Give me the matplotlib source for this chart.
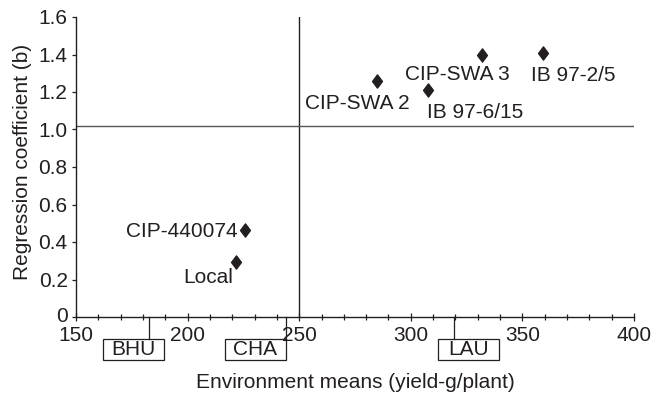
import matplotlib
matplotlib.use("Agg")
import matplotlib.pyplot as plt
from matplotlib.path import Path
from matplotlib.patches import Rectangle
from matplotlib.transforms import blended_transform_factory, ScaledTranslation
from matplotlib.ticker import MultipleLocator

# ---- data ----
genotypes = ["CIP-SWA 2", "IB 97-6/15", "CIP-SWA 3", "IB 97-2/5", "CIP-440074", "Local"]
env_mean_x = [284.7, 307.5, 332.1, 359.3, 225.5, 221.8]
regression_b = [1.26, 1.21, 1.395, 1.41, 0.465, 0.295]

environments = ["BHU", "CHA", "LAU"]
environment_means = [182.8, 244.0, 319.3]

grand_mean = 250
b_reference = 1.02

x_ticks = [150, 200, 250, 300, 350, 400]
y_ticks = [0, 0.2, 0.4, 0.6, 0.8, 1.0, 1.2, 1.4, 1.6]
y_tick_labels = ["0", "0.2", "0.4", "0.6", "0.8", "1.0", "1.2", "1.4", "1.6"]

# ---- layout / style ----
plt.rcParams['font.family'] = ['Liberation Sans', 'DejaVu Sans']
FS = 15
TXT = '#231f20'

# label offsets in pixels (dx, dy) and horizontal alignment
label_offsets = [(33, -28, 'right'), (-1, -28, 'left'), (27, -25, 'right'),
                 (-12, -28, 'left'), (-7, -7, 'right'), (-3, -21, 'right')]
# box extents relative to the connector (data units)
box_rel = [(-20.6, 6.6), (-27.3, 0.0), (-7.2, 20.1)]
box_y_top, box_y_bot = -0.073, -0.143

W, H = 667, 398
fig = plt.figure(figsize=(W / 100, H / 100), dpi=100)
ax = fig.add_axes([76 / W, 1 - 317 / H, (634 - 76) / W, 300 / H])

diamond = Path([(0, 1), (0.75, 0), (0, -1), (-0.75, 0), (0, 1)],
               [Path.MOVETO, Path.LINETO, Path.LINETO, Path.LINETO, Path.CLOSEPOLY])

ax.plot(env_mean_x, regression_b, linestyle='none', marker=diamond,
        markersize=9.5, color=TXT, zorder=5, clip_on=False)

for name, x, y, (dx, dy, ha) in zip(genotypes, env_mean_x, regression_b, label_offsets):
    ax.annotate(name, (x, y), xytext=(dx, dy), textcoords='offset pixels',
                ha=ha, va='baseline', fontsize=FS, color=TXT)

ax.axvline(grand_mean, ymin=0, ymax=1, color=TXT, lw=1.0)
ax.axhline(b_reference, xmin=0, xmax=1, color='#555555', lw=1.0)

ax.set_xlim(150, 400)
ax.set_ylim(0, 1.6)
ax.set_xticks(x_ticks)
ax.set_xticklabels([str(t) for t in x_ticks])
ax.xaxis.set_minor_locator(MultipleLocator(10))
ax.set_yticks(y_ticks)
ax.set_yticklabels(y_tick_labels)

for s in ['top', 'right']:
    ax.spines[s].set_visible(False)
for s in ['left', 'bottom']:
    ax.spines[s].set_color(TXT)
    ax.spines[s].set_linewidth(1.0)

ax.tick_params(axis='x', which='major', direction='inout', length=6, width=0.9,
               labelsize=FS, colors=TXT, pad=3.5)
ax.tick_params(axis='x', which='minor', direction='inout', length=4.3, width=0.9, colors=TXT)
ax.tick_params(axis='y', which='major', direction='out', length=3, width=0.9,
               labelsize=FS, colors=TXT, pad=3)

# nudge the "0" y tick label up slightly, as in the reference
fig.canvas.draw()
zero_lbl = ax.get_yticklabels()[0]
zero_lbl.set_transform(zero_lbl.get_transform() + ScaledTranslation(0, 2 / 72, fig.dpi_scale_trans))

trans = blended_transform_factory(ax.transData, ax.transAxes)
for name, xm, (l, r) in zip(environments, environment_means, box_rel):
    ax.plot([xm, xm], [0, box_y_top], transform=trans, color=TXT, lw=0.9, clip_on=False)
    rect = Rectangle((xm + l, box_y_bot), r - l, box_y_top - box_y_bot, transform=trans,
                     fill=False, edgecolor=TXT, lw=0.9, clip_on=False)
    ax.add_patch(rect)
    ax.text(xm + (l + r) / 2, (box_y_top + box_y_bot) / 2, name, transform=trans,
            ha='center', va='center', fontsize=FS, color=TXT)

fig.text((76 + 634) / 2 / W, 1 - 383 / H, "Environment means (yield-g/plant)",
         ha='center', va='center', fontsize=FS, color=TXT)
fig.text(23 / W, 1 - 162 / H, "Regression coefficient (b)", rotation=90,
         ha='center', va='center', fontsize=FS, color=TXT)

fig.savefig("out.png", dpi=100)
